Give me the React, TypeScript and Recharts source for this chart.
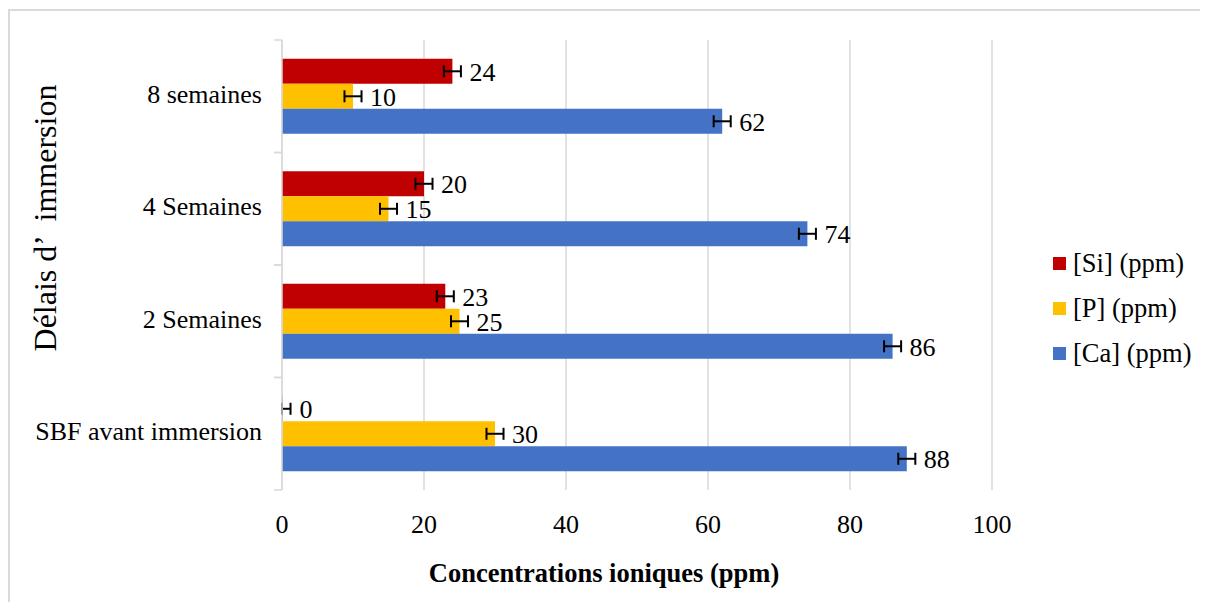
import { BarChart, Bar, XAxis, YAxis, CartesianGrid, ErrorBar, LabelList, Label } from "recharts";

// top to bottom, as drawn
const categories = ["8 semaines", "4 Semaines", "2 Semaines", "SBF avant immersion"];
const si = [24, 20, 23, 0];
const p = [10, 15, 25, 30];
const ca = [62, 74, 86, 88];
// [minus, plus]; the zero bar's lower whisker is cut by the axis
const siErr = [[1.2, 1.2], [1.2, 1.2], [1.2, 1.2], [0, 1.2]];
const pErr = [[1.2, 1.2], [1.2, 1.2], [1.2, 1.2], [1.2, 1.2]];
const caErr = [[1.2, 1.2], [1.2, 1.2], [1.2, 1.2], [1.2, 1.2]];
const xTicks = [0, 20, 40, 60, 80, 100];

const series = [
  { key: "si", err: "siErr", name: "[Si] (ppm)", color: "#C00000" },
  { key: "p", err: "pErr", name: "[P] (ppm)", color: "#FFC000" },
  { key: "ca", err: "caErr", name: "[Ca] (ppm)", color: "#4472C4" },
];

const data = categories.map((c, i) => ({
  cat: c, si: si[i], p: p[i], ca: ca[i], siErr: siErr[i], pErr: pErr[i], caErr: caErr[i],
}));

const FONT = "'Liberation Serif', 'Times New Roman', serif";
const W = 1196, H = 590;
const M = { top: 29, right: 214, bottom: 51, left: 22 };
const PLOT_H = H - M.top - M.bottom - 60;
const HALF_BAND = PLOT_H / categories.length / 2;

function YTick({ x, y, payload }: any) {
  return (
    <g>
      <line x1={x - 8} x2={x} y1={y - HALF_BAND} y2={y - HALF_BAND} stroke="#d9d9d9" strokeWidth={1.5} />
      <line x1={x - 8} x2={x} y1={y + HALF_BAND} y2={y + HALF_BAND} stroke="#d9d9d9" strokeWidth={1.5} />
      <text x={x - 20} y={y - 2} textAnchor="end" dominantBaseline="central" fontFamily={FONT} fontSize={26} fill="#000">
        {payload.value}
      </text>
    </g>
  );
}

function XTick({ x, y, payload }: any) {
  return (
    <text x={x} y={y + 34} textAnchor="middle" dominantBaseline="central" fontFamily={FONT} fontSize={26} fill="#000">
      {payload.value}
    </text>
  );
}

export default function App() {
  return (
    <div style={{ position: "relative", top: 1, width: 1198, height: 592, borderTop: "2px solid #d9d9d9", borderLeft: "2px solid #d9d9d9", background: "#fff" }}>
      <BarChart width={W} height={H} data={data} layout="vertical" margin={M} barGap={0} barCategoryGap="16.7%">
        <CartesianGrid horizontal={false} stroke="#d9d9d9" strokeWidth={1.5} />
        <XAxis type="number" domain={[0, 100]} ticks={xTicks} allowDataOverflow axisLine={false} tickLine={false}
          tickSize={0} tickMargin={0} height={60} tick={<XTick />} interval={0}>
          <Label content={() => (
            <text x={594} y={562} textAnchor="middle" dominantBaseline="central" fontFamily={FONT} fontSize={26.5} fontWeight="bold" fill="#000">
              Concentrations ioniques (ppm)
            </text>
          )} />
        </XAxis>
        <YAxis type="category" dataKey="cat" width={250} axisLine={{ stroke: "#d9d9d9", strokeWidth: 1.5 }} tickLine={false}
          tickSize={0} tickMargin={0} tick={<YTick />} interval={0}>
          <Label content={() => (
            <text x={35} y={207} transform="rotate(-90 35 207)" textAnchor="middle" dominantBaseline="central"
              fontFamily={FONT} fontSize={32} fill="#000" style={{ whiteSpace: "pre" }}>
              Délais d’  immersion
            </text>
          )} />
        </YAxis>
        {series.map((s) => (
          <Bar key={s.key} dataKey={s.key} name={s.name} fill={s.color} minPointSize={0.5} isAnimationActive={false}>
            <ErrorBar dataKey={s.err} direction="x" width={6} stroke="#000" strokeWidth={2} />
            <LabelList dataKey={s.key} position="right" offset={17} fontFamily={FONT} fontSize={26} fill="#000" />
          </Bar>
        ))}
      </BarChart>
      <div style={{ position: "absolute", left: 1043, top: 230, fontFamily: FONT, fontSize: 26.5, color: "#000" }}>
        {series.map((s) => (
          <div key={s.key} style={{ display: "flex", alignItems: "center", height: 45 }}>
            <span style={{ width: 13, height: 13, background: s.color, marginRight: 7, display: "inline-block" }} />
            <span>{s.name}</span>
          </div>
        ))}
      </div>
    </div>
  );
}
